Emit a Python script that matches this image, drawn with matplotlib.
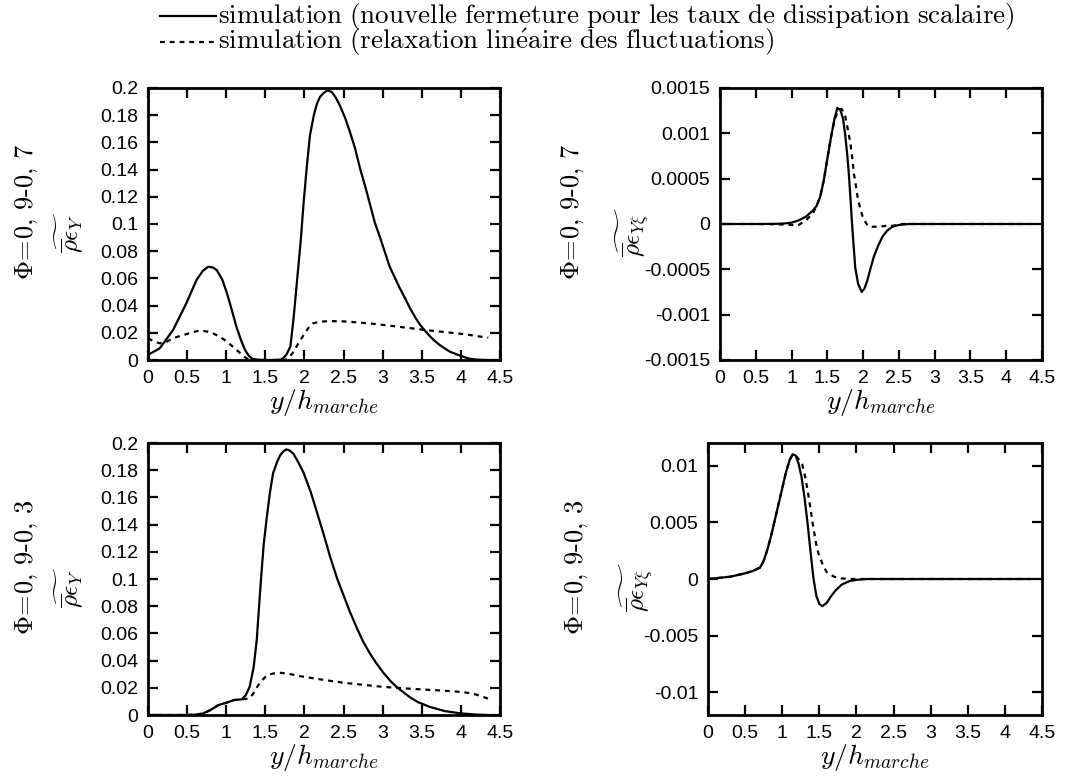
import numpy as np
import matplotlib
matplotlib.use("Agg")
import matplotlib.pyplot as plt
from matplotlib.lines import Line2D

plt.rcParams['mathtext.fontset'] = 'cm'
plt.rcParams['font.family'] = ['Liberation Sans', 'DejaVu Sans']

# ---- data ----
# top left: rho eps_Y, Phi = 0,9-0,7
x_tl_new = [0, 0.15, 0.32, 0.49, 0.62, 0.7, 0.77, 0.83, 0.88, 0.95, 1.01, 1.07,
            1.13, 1.19, 1.24, 1.29, 1.33, 1.4, 1.5, 1.6, 1.7, 1.73, 1.77, 1.82,
            1.86, 1.9, 1.95, 1.99, 2.03, 2.07, 2.12, 2.16, 2.2, 2.24, 2.28, 2.31,
            2.35, 2.4, 2.45, 2.52, 2.58, 2.65, 2.71, 2.78, 2.84, 2.9, 2.97, 3.03,
            3.09, 3.16, 3.22, 3.29, 3.35, 3.42, 3.48, 3.55, 3.61, 3.67, 3.73, 3.8,
            3.86, 3.93, 3.99, 4.06, 4.12, 4.2, 4.28, 4.35]
y_tl_new = [0.0037, 0.0086, 0.022, 0.0417, 0.0588, 0.0655, 0.0686, 0.068, 0.066,
            0.059, 0.049, 0.037, 0.0245, 0.0145, 0.0074, 0.003, 0.001, 0.0002, 0,
            0, 0.0003, 0.0015, 0.004, 0.0098, 0.03, 0.055, 0.086, 0.116, 0.142,
            0.165, 0.18, 0.1885, 0.1935, 0.196, 0.1978, 0.198, 0.197, 0.193,
            0.1875, 0.178, 0.168, 0.155, 0.141, 0.127, 0.114, 0.101, 0.0895,
            0.079, 0.0686, 0.06, 0.0527, 0.045, 0.038, 0.031, 0.0257, 0.021,
            0.0171, 0.0138, 0.011, 0.0083, 0.0061, 0.0045, 0.0032, 0.0018, 0.0009,
            0.0003, 0.0001, 0]
x_tl_lin = [0, 0.08, 0.15, 0.24, 0.32, 0.4, 0.49, 0.57, 0.66, 0.75, 0.83, 0.92,
            1.01, 1.1, 1.18, 1.23, 1.28, 1.4, 1.6, 1.75, 1.8, 1.86, 1.92, 1.99,
            2.05, 2.11, 2.2, 2.33, 2.5, 2.67, 2.9, 3.09, 3.3, 3.52, 3.75, 3.95,
            4.1, 4.25, 4.35]
y_tl_lin = [0.016, 0.0135, 0.0123, 0.0135, 0.016, 0.0175, 0.019, 0.0205, 0.0216,
            0.021, 0.0196, 0.017, 0.0135, 0.009, 0.005, 0.0025, 0.0005, 0, 0, 0,
            0.0015, 0.006, 0.012, 0.0184, 0.0235, 0.027, 0.0282, 0.0286, 0.0284,
            0.0277, 0.0265, 0.0252, 0.0238, 0.0222, 0.0208, 0.0196, 0.0185,
            0.0172, 0.0165]

# top right: rho eps_Yxi, Phi = 0,9-0,7
x_tr_new = [0, 0.5, 0.8, 0.9, 1.0, 1.1, 1.2, 1.3, 1.35, 1.4, 1.45, 1.5, 1.55,
            1.6, 1.64, 1.68, 1.72, 1.75, 1.78, 1.8, 1.83, 1.85, 1.89, 1.93, 1.98,
            2.02, 2.06, 2.1, 2.15, 2.21, 2.27, 2.34, 2.41, 2.5, 2.64, 3.0, 4.35]
y_tr_new = [0, 0, 0.000002, 0.000006, 0.000015, 0.00004, 0.00008, 0.00015,
            0.0002, 0.0003, 0.00048, 0.00072, 0.00095, 0.00116, 0.00128, 0.00126,
            0.00116, 0.00098, 0.00075, 0.00056, 0.0002, -0.00005, -0.00048,
            -0.00066, -0.00075, -0.00071, -0.00062, -0.0005, -0.00036, -0.00024,
            -0.00014, -0.00007, -0.00003, -0.00001, 0, 0, 0]
x_tr_lin = [0, 0.5, 0.8, 1.0, 1.05, 1.1, 1.2, 1.3, 1.35, 1.4, 1.45, 1.5, 1.55,
            1.6, 1.65, 1.7, 1.75, 1.79, 1.82, 1.85, 1.87, 1.9, 1.92, 1.96, 1.99,
            2.04, 2.08, 2.15, 2.22, 2.32, 2.41, 2.55, 3.0, 4.35]
y_tr_lin = [0, 0, -0.000003, -0.00001, -0.000015, -0.00001, 0.00004, 0.00012,
            0.0002, 0.0003, 0.00048, 0.00072, 0.00095, 0.00115, 0.00125, 0.00127,
            0.00119, 0.00103, 0.0009, 0.00072, 0.00056, 0.00042, 0.00031,
            0.00017, 0.00009, 0.00001, -0.00003, -0.00003, -0.00003, -0.00002,
            -0.00002, 0, 0, 0]

# bottom left: rho eps_Y, Phi = 0,9-0,3
x_bl_new = [0, 0.5, 0.6, 0.7, 0.8, 0.9, 1.0, 1.1, 1.2, 1.25, 1.3, 1.35, 1.39,
            1.42, 1.45, 1.48, 1.52, 1.56, 1.6, 1.65, 1.69, 1.73, 1.77, 1.81, 1.86,
            1.92, 1.99, 2.08, 2.16, 2.25, 2.33, 2.42, 2.5, 2.58, 2.67, 2.75, 2.84,
            2.92, 3.01, 3.1, 3.18, 3.27, 3.35, 3.45, 3.6, 3.8, 4.0, 4.2, 4.35]
y_bl_new = [0, 0, 0.0003, 0.001, 0.0037, 0.0073, 0.009, 0.011, 0.0115, 0.0146,
            0.0208, 0.035, 0.055, 0.08, 0.104, 0.126, 0.146, 0.164, 0.178, 0.186,
            0.191, 0.1938, 0.1953, 0.1945, 0.192, 0.186, 0.178, 0.164, 0.149,
            0.132, 0.116, 0.1, 0.088, 0.076, 0.064, 0.054, 0.045, 0.038, 0.031,
            0.025, 0.0205, 0.0165, 0.013, 0.0095, 0.006, 0.0028, 0.0012, 0.0003, 0]
x_bl_lin = [0, 0.5, 0.6, 0.7, 0.8, 0.9, 1.0, 1.1, 1.2, 1.25, 1.3, 1.35, 1.4,
            1.45, 1.5, 1.55, 1.6, 1.7, 1.8, 1.9, 2.0, 2.25, 2.5, 2.75, 3.0, 3.25,
            3.5, 3.75, 4.0, 4.15, 4.25, 4.35]
y_bl_lin = [0, 0, 0.0003, 0.001, 0.0037, 0.0073, 0.009, 0.011, 0.0115, 0.0118,
            0.0125, 0.016, 0.021, 0.025, 0.028, 0.0298, 0.0305, 0.031, 0.0303,
            0.029, 0.028, 0.0258, 0.0237, 0.0222, 0.0207, 0.0197, 0.0188, 0.018,
            0.017, 0.0158, 0.014, 0.012]

# bottom right: rho eps_Yxi, Phi = 0,9-0,3
x_br_new = [0, 0.3, 0.5, 0.6, 0.7, 0.75, 0.8, 0.85, 0.9, 0.95, 1.0, 1.05, 1.1,
            1.14, 1.18, 1.22, 1.26, 1.3, 1.34, 1.38, 1.42, 1.46, 1.5, 1.54, 1.6,
            1.66, 1.72, 1.8, 1.9, 2.0, 2.15, 4.35]
y_br_new = [0, 0.0002, 0.0005, 0.0007, 0.001, 0.0016, 0.0026, 0.0038, 0.0052,
            0.0066, 0.008, 0.0094, 0.0105, 0.011, 0.0109, 0.0102, 0.009, 0.0072,
            0.005, 0.0025, 0.0001, -0.0015, -0.0022, -0.0024, -0.0021, -0.0015,
            -0.001, -0.0005, -0.0002, -0.00007, 0, 0]
x_br_lin = [0, 0.3, 0.5, 0.6, 0.7, 0.75, 0.8, 0.85, 0.9, 0.95, 1.0, 1.05, 1.1,
            1.14, 1.18, 1.22, 1.27, 1.31, 1.35, 1.39, 1.42, 1.46, 1.49, 1.55, 1.6,
            1.7, 1.8, 1.95, 4.35]
y_br_lin = [0, 0.0002, 0.0005, 0.0007, 0.001, 0.0016, 0.0026, 0.0038, 0.0052,
            0.0066, 0.008, 0.0094, 0.0105, 0.011, 0.0109, 0.0106, 0.0101, 0.009,
            0.0075, 0.0058, 0.0045, 0.003, 0.0022, 0.0012, 0.0006, 0.0002,
            0.00005, 0, 0]

xtick_labels = ['0', '0.5', '1', '1.5', '2', '2.5', '3', '3.5', '4', '4.5']
ytick_eps = ['0', '0.02', '0.04', '0.06', '0.08', '0.1', '0.12', '0.14', '0.16', '0.18', '0.2']
ytick_tr = ['-0.0015', '-0.001', '-0.0005', '0', '0.0005', '0.001', '0.0015']
ytick_br = ['-0.01', '-0.005', '0', '0.005', '0.01']

lab_new = r'$\mathrm{simulation\ (nouvelle\ fermeture\ pour\ les\ taux\ de\ dissipation\ scalaire)}$'
lab_lin = r'$\mathrm{simulation\ (relaxation\ lin\acute{e}aire\ des\ fluctuations)}$'

fig = plt.figure(figsize=(10.72, 7.81), dpi=100)
W, H = 1072, 781

def make_ax(l, r, t, b):
    return fig.add_axes([l / W, 1 - b / H, (r - l) / W, (b - t) / H])

ax_tl = make_ax(148, 500, 88, 360)
ax_tr = make_ax(720, 1042, 88, 360)
ax_bl = make_ax(148, 500, 443, 715)
ax_br = make_ax(708, 1042, 443, 715)

panels = [
    (ax_tl, x_tl_new, y_tl_new, x_tl_lin, y_tl_lin, (0, 0.2),
     [float(v) for v in ytick_eps], ytick_eps,
     r'$\widetilde{\overline{\rho}\epsilon_Y}$', r'$\Phi\!=\!0,\,9\text{-}0,\,7$', 27, 70),
    (ax_tr, x_tr_new, y_tr_new, x_tr_lin, y_tr_lin, (-0.0015, 0.0015),
     [float(v) for v in ytick_tr], ytick_tr,
     r'$\widetilde{\overline{\rho}\epsilon_{Y\xi}}$', r'$\Phi\!=\!0,\,9\text{-}0,\,7$', 573, 633),
    (ax_bl, x_bl_new, y_bl_new, x_bl_lin, y_bl_lin, (0, 0.2),
     [float(v) for v in ytick_eps], ytick_eps,
     r'$\widetilde{\overline{\rho}\epsilon_Y}$', r'$\Phi\!=\!0,\,9\text{-}0,\,3$', 27, 70),
    (ax_br, x_br_new, y_br_new, x_br_lin, y_br_lin, (-0.012, 0.012),
     [float(v) for v in ytick_br], ytick_br,
     r'$\widetilde{\overline{\rho}\epsilon_{Y\xi}}$', r'$\Phi\!=\!0,\,9\text{-}0,\,3$', 577, 637),
]

for ax, xn, yn, xl, yl, ylim, yt, ytl, ylab, philab, xphi, xrho in panels:
    ax.plot(xn, yn, color='black', lw=1.6)
    ax.plot(xl, yl, color='black', lw=1.6, ls=(0, (2.2, 2.2)))
    ax.set_xlim(0, 4.5)
    ax.set_ylim(*ylim)
    ax.set_xticks([float(v) for v in xtick_labels])
    ax.set_xticklabels(xtick_labels)
    ax.set_yticks(yt)
    ax.set_yticklabels(ytl)
    ax.tick_params(direction='in', length=7, width=1.6, top=True, right=True,
                   labelsize=14, pad=7)
    for s in ax.spines.values():
        s.set_linewidth(2)
    ax.set_xlabel(r'$y/h_{marche}$', fontsize=20, labelpad=0)
    pos = ax.get_position()
    yc = (pos.y0 + pos.y1) / 2
    fig.text(xphi / W, yc + 0.015, philab, rotation=90, fontsize=19, ha='center', va='center')
    fig.text(xrho / W, yc - 0.01, ylab, rotation=90, fontsize=18, ha='center', va='center')

# legend, drawn by hand
for yy, ls, lab in [(16, '-', lab_new), (42, (0, (2.2, 2.2)), lab_lin)]:
    fig.add_artist(Line2D([160 / W, 216 / W], [1 - yy / H, 1 - yy / H], color='black',
                          lw=1.6, ls=ls, transform=fig.transFigure))
    fig.text(218 / W, 1 - yy / H, lab, fontsize=19.5, ha='left', va='center')

fig.savefig('out.png', dpi=100)
